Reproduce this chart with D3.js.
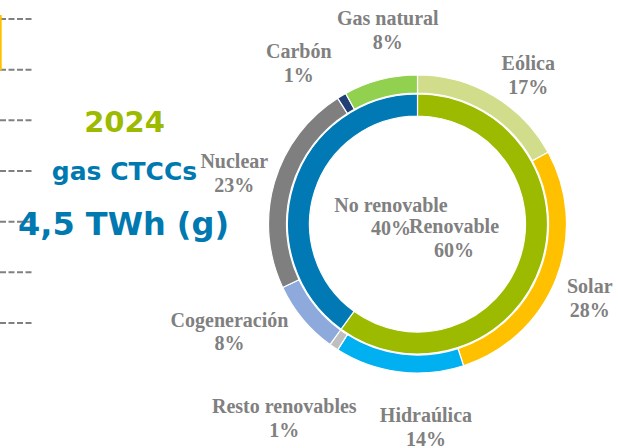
<!DOCTYPE html>
<html lang="es">
<head>
    <meta charset="UTF-8">
    <title>Generación 2024 - renovable / no renovable</title>
    <script src="https://d3js.org/d3.v7.min.js"></script>
    <style>
        body {
            margin: 0;
            background: #fff;
        }
        .lbl {
            font-family: "Liberation Serif", serif;
            font-weight: bold;
            font-size: 20px;
            fill: #808080;
            text-anchor: middle;
        }
        .big {
            font-family: "DejaVu Sans", Verdana, sans-serif;
            font-weight: bold;
            text-anchor: middle;
        }
    </style>
</head>
<body>
    <div id="chart"></div>

    <script>
        // Inner ring: renewable vs non renewable
        const groupNames = ["Renovable", "No renovable"];
        const groupValues = [60, 40];

        // Outer ring: technologies (same order, clockwise from the top)
        const techNames = ["Eólica", "Solar", "Hidraúlica", "Resto renovables",
                           "Cogeneración", "Nuclear", "Carbón", "Gas natural"];
        const techValues = [17, 28, 14, 1, 8, 23, 1, 8];

        // dashed guide lines of the neighbouring panel (cropped on the left)
        const guideSteps = [0, 1, 2, 3, 4, 5, 6];

        const width = 618, height = 448;
        const cx = 417.5, cy = 224;

        const groupColors = {
            "Renovable": "#9cba00",
            "No renovable": "#0079b4"
        };
        const techColors = {
            "Eólica": "#d1dd8b",
            "Solar": "#ffc000",
            "Hidraúlica": "#00b0f0",
            "Resto renovables": "#bfbfbf",
            "Cogeneración": "#8eaadc",
            "Nuclear": "#7f7f7f",
            "Carbón": "#213f76",
            "Gas natural": "#92d050"
        };

        // manual label nudges (like dragged labels in the original)
        const nudge = {
            "Gas natural": [19, -3],
            "Carbón": [-19, 9],
            "Eólica": [11, 21],
            "Solar": [-10, 3],
            "Hidraúlica": [33, 10],
            "Resto renovables": [-23, 33],
            "Cogeneración": [-37, -16],
            "Nuclear": [5, 5],
            "Renovable": [-1.5, 3],
            "No renovable": [11.5, 6]
        };

        const svg = d3.select("#chart")
            .append("svg")
            .attr("width", width)
            .attr("height", height);

        // guide lines on the left
        const gy = d3.scaleLinear().domain([0, 6]).range([323, 19]);
        svg.append("g")
            .selectAll("line")
            .data(guideSteps)
            .join("line")
            .attr("x1", 0)
            .attr("x2", 33)
            .attr("y1", d => gy(d))
            .attr("y2", d => gy(d))
            .attr("stroke", "#808080")
            .attr("stroke-width", 2)
            .attr("stroke-dasharray", "6,2.5");

        svg.append("line")
            .attr("x1", 0.8).attr("x2", 0.8)
            .attr("y1", 15).attr("y2", 70.5)
            .attr("stroke", "#ffc000")
            .attr("stroke-width", 1.8);

        // left headline
        svg.append("text").attr("class", "big")
            .attr("x", 124.5).attr("y", 132)
            .style("font-size", "29px")
            .attr("fill", "#9cba00")
            .text("2024");
        svg.append("text").attr("class", "big")
            .attr("x", 124.5).attr("y", 180)
            .style("font-size", "25px")
            .attr("fill", "#0079b0")
            .text("gas CTCCs");
        svg.append("text").attr("class", "big")
            .attr("x", 123.5).attr("y", 235)
            .style("font-size", "32px")
            .attr("fill", "#0079b0")
            .text("4,5 TWh (g)");

        const pie = d3.pie().sort(null).value(d => d.value);

        const innerData = pie(groupNames.map((n, i) => ({ name: n, value: groupValues[i] })));
        const outerData = pie(techNames.map((n, i) => ({ name: n, value: techValues[i] })));

        const innerArc = d3.arc().innerRadius(108).outerRadius(130);
        const outerArc = d3.arc().innerRadius(131).outerRadius(149);
        const innerLabelArc = d3.arc().innerRadius(40).outerRadius(40);
        const outerLabelArc = d3.arc().innerRadius(196).outerRadius(196);

        const g = svg.append("g")
            .attr("transform", `translate(${cx},${cy})`);

        g.selectAll(".inner")
            .data(innerData)
            .join("path")
            .attr("class", "inner")
            .attr("d", innerArc)
            .attr("fill", d => groupColors[d.data.name])
            .attr("stroke", "#fff")
            .attr("stroke-width", 1.2);

        g.selectAll(".outer")
            .data(outerData)
            .join("path")
            .attr("class", "outer")
            .attr("d", outerArc)
            .attr("fill", d => techColors[d.data.name])
            .attr("stroke", "#fff")
            .attr("stroke-width", 1.2);

        function addLabel(d, arc) {
            const c = arc.centroid(d);
            const n = nudge[d.data.name] || [0, 0];
            const t = g.append("text")
                .attr("class", "lbl")
                .attr("transform", `translate(${c[0] + n[0]},${c[1] + n[1]})`);
            t.append("tspan").attr("x", 0).attr("y", -6).text(d.data.name);
            t.append("tspan").attr("x", 0).attr("y", 17.5).text(d.data.value + "%");
        }

        outerData.forEach(d => addLabel(d, outerLabelArc));
        innerData.forEach(d => addLabel(d, innerLabelArc));
    </script>
</body>
</html>
